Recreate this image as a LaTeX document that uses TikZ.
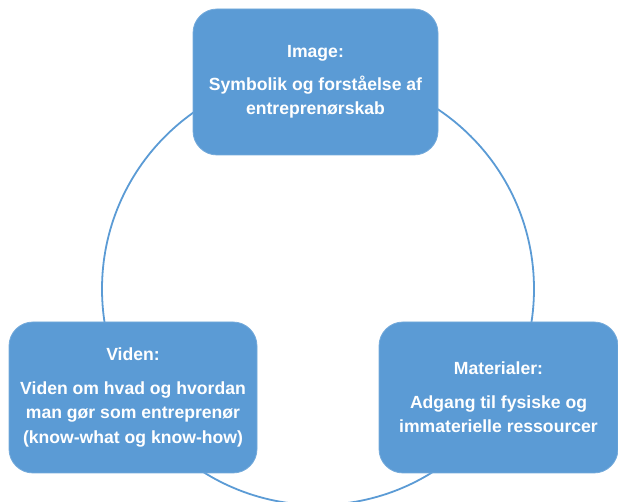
\documentclass[tikz,border=0pt]{standalone}
\usepackage{fontspec}
\setmainfont{Liberation Sans}
\definecolor{boxblue}{HTML}{5B9BD5}

\begin{document}
\begin{tikzpicture}[x=1pt, y=1pt, block/.style={fill=boxblue, draw=boxblue!85!white, line width=0.8pt, rounded corners=24pt, text=white, align=center, inner sep=0pt, font=\fontsize{17.6}{24.5}\selectfont\bfseries}]

  \useasboundingbox (0,0) rectangle (618,502);
  \clip (0,0) rectangle (618,502);

  % Cycle
  \coordinate (C) at (318,213);
  \draw[boxblue, line width=1.8pt] (C) circle (216pt);

  % Blocks
  \node[block, minimum width=245pt, minimum height=146pt] (img) at (315.5,420) {Image:\\[8pt]Symbolik og forståelse af\\entreprenørskab};
  \node[block, minimum width=248pt, minimum height=151pt] (vid) at (133,104.5) {Viden:\\[9pt]Viden om hvad og hvordan\\man gør som entreprenør\\(know-what og know-how)};
  \node[block, minimum width=239pt, minimum height=151pt] (mat) at (498.5,104.5) {Materialer:\\[9pt]Adgang til fysiske og\\immaterielle ressourcer};

\end{tikzpicture}
\end{document}
